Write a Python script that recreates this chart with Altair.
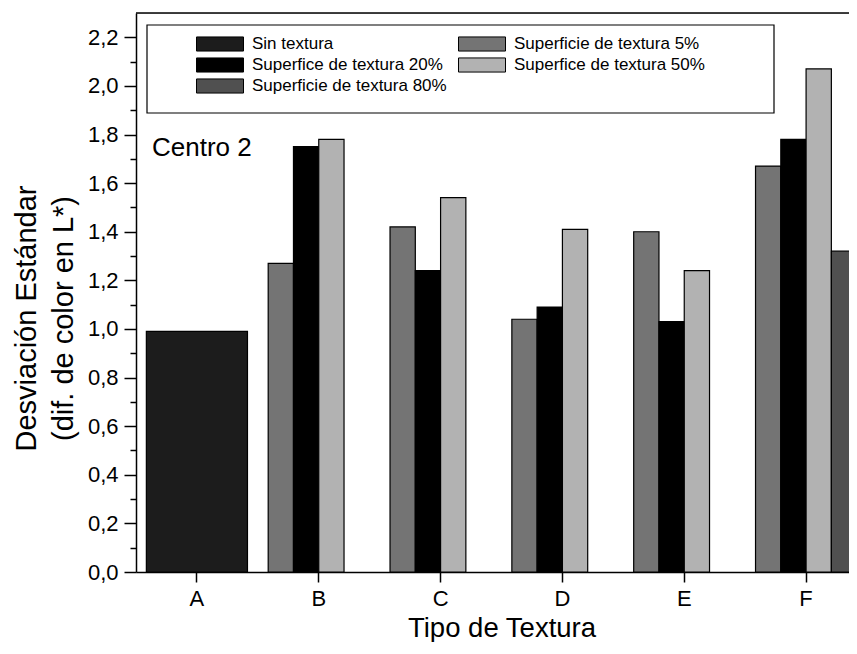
import altair as alt
import pandas as pd

categories = ["A", "B", "C", "D", "E", "F"]
series = ["Sin textura", "Superficie de textura 5%", "Superfice de textura 20%",
          "Superfice de textura 50%", "Superficie de textura 80%"]
sin_textura = [0.99, None, None, None, None, None]
textura_5 = [None, 1.27, 1.42, 1.04, 1.40, 1.67]
textura_20 = [None, 1.75, 1.24, 1.09, 1.03, 1.78]
textura_50 = [None, 1.78, 1.54, 1.41, 1.24, 2.07]
textura_80 = [None, None, None, None, None, 1.32]
colors = ["#1c1c1c", "#747474", "#000000", "#b2b2b2", "#505050"]
y_ticks = [round(i * 0.1, 1) for i in range(23)]

rows = []
for s, vals in zip(series, [sin_textura, textura_5, textura_20, textura_50, textura_80]):
    for c, v in zip(categories, vals):
        if v is not None:
            rows.append({"tipo": c, "serie": s, "valor": v})
df = pd.DataFrame(rows)
dummy = pd.DataFrame({"t": ["Centro 2"]})

# legend fills column by column: first column Sin/20%/80%, second 5%/50%
legend_order = [0, 2, 4, 1, 3]
color_domain = [series[i] for i in legend_order]
color_range = [colors[i] for i in legend_order]

W, H = 713, 559
RANGE = 731
FONT = "Liberation Sans"

x_enc = alt.X(
    "tipo:N", sort=categories,
    scale=alt.Scale(domain=categories, range=[0, RANGE], paddingInner=0.17, paddingOuter=0.085),
    axis=alt.Axis(
        title="Tipo de Textura", labelAngle=0, labelFontSize=22, labelFont=FONT,
        labelColor="black", tickSize=10, tickWidth=1.5, tickColor="black",
        labelPadding=6, domainColor="black", domainWidth=1.5, grid=False,
        titleFontSize=27.5, titleFont=FONT, titleFontWeight="normal", titleColor="black",
        titleX=RANGE / 2, titleY=64, titleBaseline="alphabetic", titleAlign="center",
    ),
)
y_enc = alt.Y(
    "valor:Q",
    scale=alt.Scale(domain=[0, 2.3], nice=False, zero=True),
    axis=alt.Axis(
        values=y_ticks,
        labelExpr="round(datum.value*10) % 2 == 0 ? replace(format(datum.value, '.1f'), '.', ',') : ''",
        tickSize={"condition": {"test": "round(datum.value*10) % 2 == 0", "value": 12}, "value": 6},
        tickWidth=1.5, tickColor="black", domainColor="black", domainWidth=1.5,
        labelFontSize=22, labelFont=FONT, labelColor="black", labelPadding=6,
        grid=False,
        title=["Desviación Estándar", "(dif. de color en L*)"],
        titleFontSize=29, titleFont=FONT, titleFontWeight="normal", titleColor="black",
        titleX=-101, titleY=305, titleAngle=270, titleBaseline="alphabetic",
        titleAlign="center", titleLineHeight=37,
    ),
)
legend = alt.Legend(
    orient="none", legendX=60, legendY=22, columns=2, title=None,
    symbolType="M-1,-0.3L1,-0.3L1,0.3L-1,0.3Z", symbolSize=2209,
    symbolStrokeColor="black", symbolStrokeWidth=1, symbolOpacity=1,
    labelFontSize=17, labelFont=FONT, labelColor="black", labelLimit=0,
    labelOffset=8, columnPadding=11, rowPadding=3, clipHeight=18, padding=0,
)
color_enc = alt.Color("serie:N", scale=alt.Scale(domain=color_domain, range=color_range), legend=legend)

bars_a = alt.Chart(df).transform_filter(alt.datum.serie == "Sin textura").mark_bar(
    stroke="black", strokeWidth=1.2, clip=True, opacity=1
).encode(x=x_enc, y=y_enc, color=color_enc)

bars_g = alt.Chart(df).transform_filter(alt.datum.serie != "Sin textura").mark_bar(
    stroke="black", strokeWidth=1.2, clip=True, opacity=1
).encode(
    x=x_enc,
    xOffset=alt.XOffset("serie:N", scale=alt.Scale(domain=series[1:], paddingInner=0, paddingOuter=0)),
    y=y_enc,
    color=color_enc,
)

legend_box = alt.Chart(dummy).mark_rect(fill="transparent", stroke="black", strokeWidth=1.2).encode(
    x=alt.value(11), x2=alt.value(638), y=alt.value(12), y2=alt.value(100)
)
frame_top = alt.Chart(dummy).mark_rule(color="black", strokeWidth=1.5).encode(
    x=alt.value(0), x2=alt.value(W), y=alt.value(0)
)
label = alt.Chart(dummy).mark_text(
    align="left", baseline="alphabetic", fontSize=26, font=FONT, color="black"
).encode(x=alt.value(16), y=alt.value(143), text="t:N")

chart = alt.layer(legend_box, bars_a, bars_g, frame_top, label).properties(
    width=W, height=H,
    autosize=alt.AutoSizeParams(type="none"),
    padding={"left": 128, "top": 5, "right": 0, "bottom": 70},
).configure_view(stroke=None).configure(font=FONT)

chart.save("out.html", embed_options={"renderer": "svg", "actions": False})
